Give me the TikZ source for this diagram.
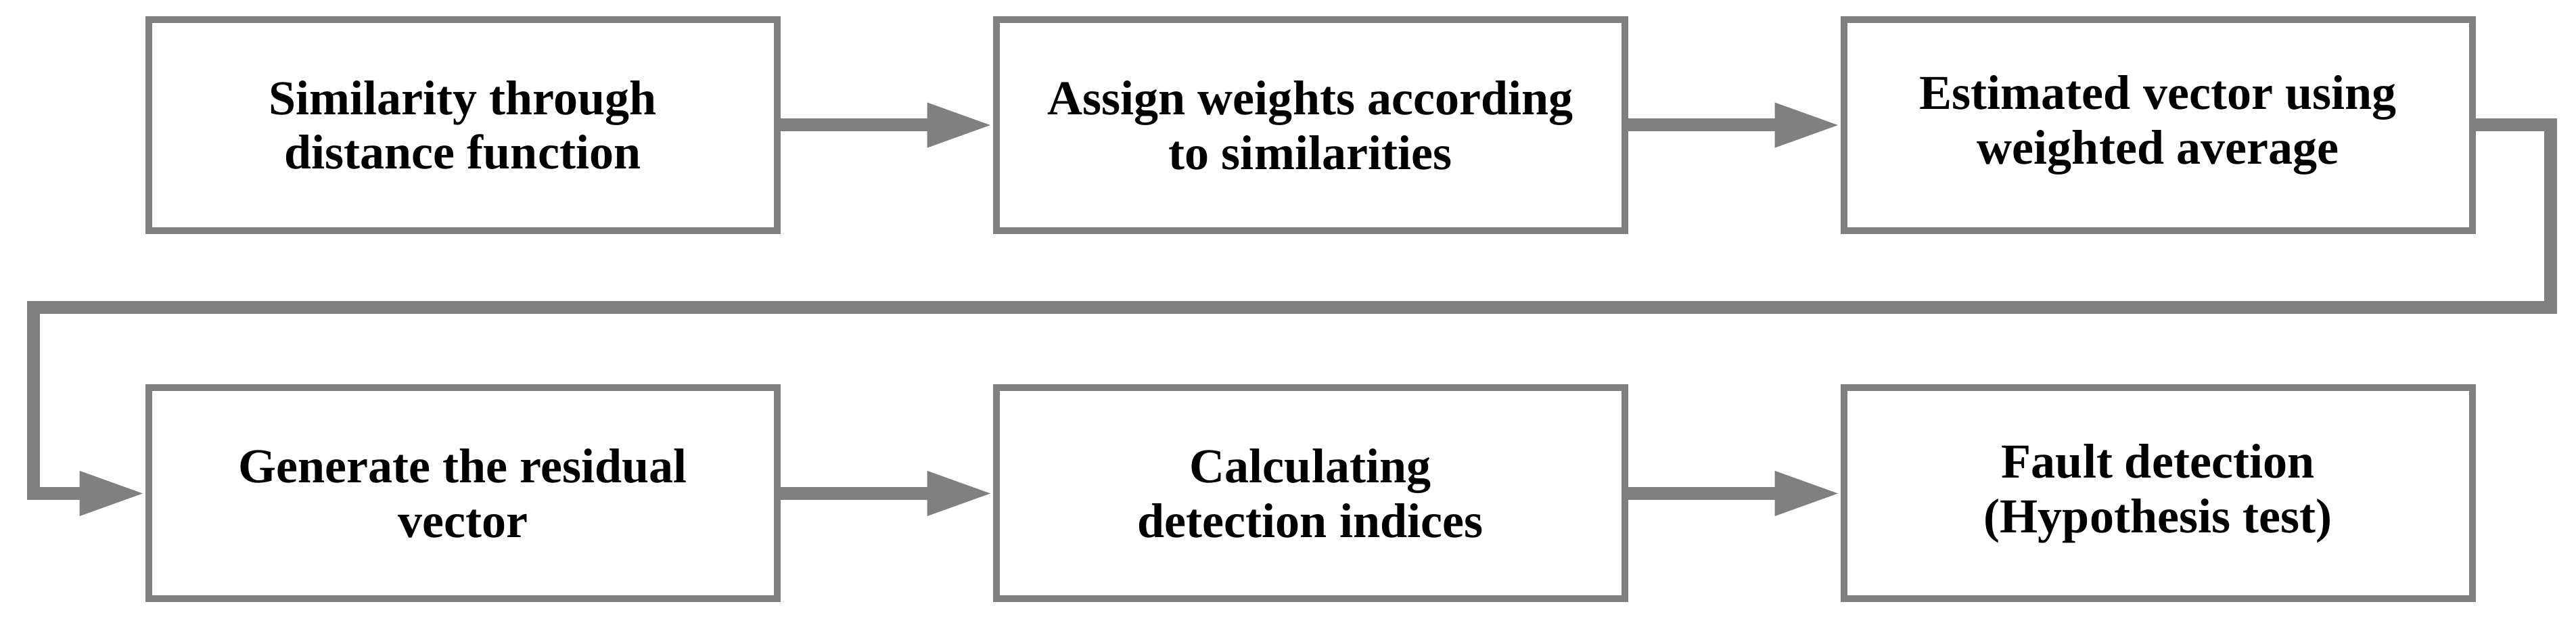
\documentclass[tikz,border=0pt]{standalone}
\usepackage{fontspec}
\setmainfont{Liberation Serif}
\usetikzlibrary{arrows.meta}
\definecolor{linegray}{RGB}{128,128,128}
\tikzset{
  stepbox/.style={draw=linegray, line width=0.1cm, fill=white, minimum width=9.29cm, minimum height=3.12cm, align=center, inner sep=0pt, font=\fontsize{20.5}{23}\selectfont\bfseries},
  flow/.style={draw=linegray, line width=0.19cm, -{Triangle[length=0.97cm, width=0.61cm]}, line join=miter}
}
\begin{document}
\begin{tikzpicture}
\useasboundingbox (0,0) rectangle (38.08,9.21);
\node[stepbox] (b1) at (6.84,7.36) {Similarity through\\distance function};
\node[stepbox] (b2) at (19.37,7.36) {Assign weights according\\to similarities};
\node[stepbox] (b3) at (31.90,7.36) {Estimated vector using\\weighted average};
\node[stepbox] (b4) at (6.84,1.915) {Generate the residual\\vector};
\node[stepbox] (b5) at (19.37,1.915) {Calculating\\detection indices};
\node[stepbox] (b6) at (31.90,1.915) {Fault detection\\(Hypothesis test)};
\coordinate (c1) at (37.70,7.36);
\coordinate (c2) at (37.70,4.66);
\coordinate (c3) at (0.49,4.66);
\coordinate (c4) at (0.49,1.915);
\draw[flow] (b1.east) -- (b2.west);
\draw[flow] (b2.east) -- (b3.west);
\draw[flow] (b3.east) -- (c1) -- (c2) -- (c3) -- (c4) -- (b4.west);
\draw[flow] (b4.east) -- (b5.west);
\draw[flow] (b5.east) -- (b6.west);
\end{tikzpicture}
\end{document}
